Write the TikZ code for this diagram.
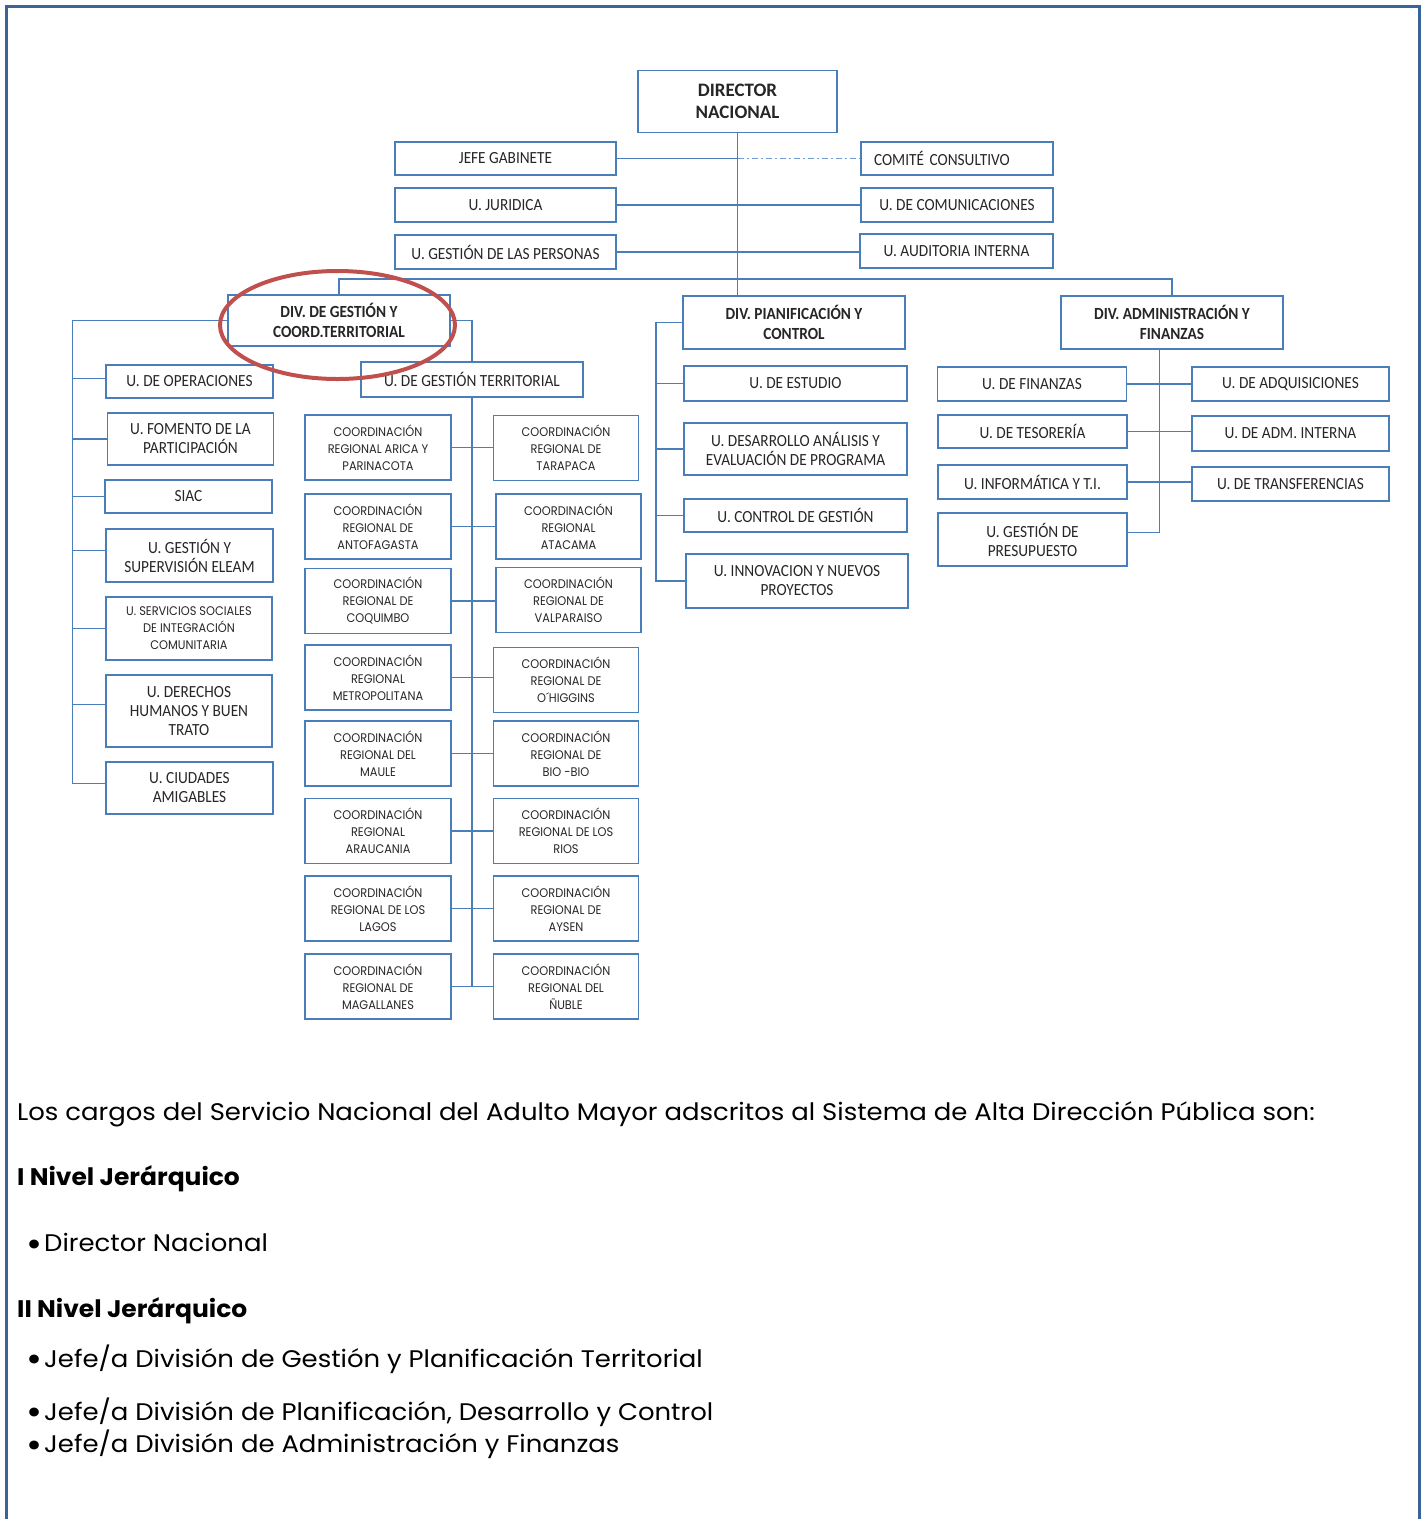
\documentclass[tikz,border=0pt]{standalone}
\usepackage{fontspec}
\newfontfamily\boxfont[FakeStretch=0.9]{Carlito}
\newfontfamily\dirfont{Carlito}
\newfontfamily\regfont[FakeStretch=0.91]{Poppins}
\newfontfamily\bodyfont[FakeStretch=1.08]{Poppins}
\newfontfamily\headfont[FakeStretch=1.04]{Poppins}
\definecolor{orgline}{HTML}{4A7EBB}
\definecolor{framecol}{HTML}{3A6397}
\definecolor{dotline}{HTML}{6F9BD6}
\definecolor{ringred}{HTML}{C0504D}
\newcommand{\bigdot}{\makebox[18pt][l]{\smash{\raisebox{-4.5pt}{\fontsize{36}{24}\selectfont •}}}}
\tikzset{
    box/.style={draw=orgline, line width=1.6pt, rectangle, inner sep=0pt, align=center,
        text=black!85, font=\boxfont\fontsize{17}{19}\selectfont},
    divbox/.style={box, font=\boxfont\bfseries\fontsize{17}{19.5}\selectfont},
    coordbox/.style={box, font=\regfont\fontsize{12.5}{17}\selectfont,
        minimum height=65pt},
    link/.style={draw=orgline, line width=1.4pt},
    bodytext/.style={anchor=base west, inner sep=0pt, font=\bodyfont\fontsize{24}{24}\selectfont},
    headtext/.style={bodytext, font=\headfont\bfseries\fontsize{24}{24}\selectfont},
}

\begin{document}
\begin{tikzpicture}[x=1pt, y=-1pt]
    \useasboundingbox (0,0) rectangle (1421,1519);
    \draw[framecol, line width=3pt] (6.5,1519) -- (6.5,6.5) -- (1419.5,6.5) -- (1419.5,1519);

    % top level
    \node[box, font=\dirfont\bfseries\fontsize{19}{22}\selectfont, minimum width=199pt, minimum height=62pt] (dir) at (737.5,101.3) {DIRECTOR\\NACIONAL};
    \node[box, minimum width=221pt, minimum height=33pt] (jefe) at (505.5,158.5) {JEFE GABINETE};
    \node[box, minimum width=221pt, minimum height=34pt] (jur) at (505.5,205) {U. JURIDICA};
    \node[box, minimum width=221pt, minimum height=34pt] (pers) at (505.5,252) {U. GESTIÓN DE LAS PERSONAS};
    \node[box, minimum width=192pt, minimum height=33pt, text width=166pt, align=left] (comite) at (957,158.5) {COMITÉ CONSULTIVO};
    \node[box, minimum width=192pt, minimum height=34pt] (comu) at (957,205) {U. DE COMUNICACIONES};
    \node[box, minimum width=193pt, minimum height=34pt] (aud) at (956.5,251) {U. AUDITORIA INTERNA};

    % divisions
    \node[divbox, minimum width=222pt, minimum height=51pt] (gest) at (339,320.5) {DIV. DE GESTIÓN Y\\COORD.TERRITORIAL};
    \node[divbox, minimum width=222pt, minimum height=53pt] (plan) at (794,322.5) {DIV. PIANIFICACIÓN Y\\CONTROL};
    \node[divbox, minimum width=222pt, minimum height=53pt] (adm) at (1172,322.5) {DIV. ADMINISTRACIÓN Y\\FINANZAS};

    % div. gestion units
    \node[box, minimum width=167pt, minimum height=33pt] (ope) at (189.5,381.5) {U. DE OPERACIONES};
    \node[box, minimum width=166pt, minimum height=52pt] (fom) at (190.5,439) {U. FOMENTO DE LA\\PARTICIPACIÓN};
    \node[box, minimum width=167pt, minimum height=33pt] (siac) at (188.5,496.5) {SIAC};
    \node[box, minimum width=167pt, minimum height=53pt] (eleam) at (189.5,555.5) {U. GESTIÓN Y\\SUPERVISIÓN ELEAM};
    \node[coordbox, minimum width=166pt, minimum height=63pt] (serv) at (189,628.5) {U. SERVICIOS SOCIALES\\DE INTEGRACIÓN\\COMUNITARIA};
    \node[box, minimum width=166pt, minimum height=72pt] (der) at (189,711) {U. DERECHOS\\HUMANOS Y BUEN\\TRATO};
    \node[box, minimum width=167pt, minimum height=52pt] (ciud) at (189.5,788) {U. CIUDADES\\AMIGABLES};
    \node[box, minimum width=222pt, minimum height=35pt] (terr) at (472,379.5) {U. DE GESTIÓN TERRITORIAL};

    % coordinaciones regionales
    \node[coordbox, minimum width=146pt] (ari) at (378,447.5) {COORDINACIÓN\\REGIONAL ARICA Y\\PARINACOTA};
    \node[coordbox, minimum width=145pt] (tar) at (566,448) {COORDINACIÓN\\REGIONAL DE\\TARAPACA};
    \node[coordbox, minimum width=146pt] (ant) at (378,526.5) {COORDINACIÓN\\REGIONAL DE\\ANTOFAGASTA};
    \node[coordbox, minimum width=145pt] (ata) at (568.5,526.5) {COORDINACIÓN\\REGIONAL\\ATACAMA};
    \node[coordbox, minimum width=146pt] (coq) at (378,601) {COORDINACIÓN\\REGIONAL DE\\COQUIMBO};
    \node[coordbox, minimum width=145pt] (val) at (568.5,600) {COORDINACIÓN\\REGIONAL DE\\VALPARAISO};
    \node[coordbox, minimum width=146pt] (met) at (378,677.5) {COORDINACIÓN\\REGIONAL\\METROPOLITANA};
    \node[coordbox, minimum width=145pt] (ohi) at (566,680) {COORDINACIÓN\\REGIONAL DE\\O´HIGGINS};
    \node[coordbox, minimum width=146pt] (mau) at (378,753.5) {COORDINACIÓN\\REGIONAL DEL\\MAULE};
    \node[coordbox, minimum width=145pt] (bio) at (566,753.5) {COORDINACIÓN\\REGIONAL DE\\BIO -BIO};
    \node[coordbox, minimum width=146pt] (ara) at (378,831) {COORDINACIÓN\\REGIONAL\\ARAUCANIA};
    \node[coordbox, minimum width=145pt] (rio) at (566,831) {COORDINACIÓN\\REGIONAL DE LOS\\RIOS};
    \node[coordbox, minimum width=146pt] (lag) at (378,908.5) {COORDINACIÓN\\REGIONAL DE LOS\\LAGOS};
    \node[coordbox, minimum width=145pt] (ays) at (566,908.5) {COORDINACIÓN\\REGIONAL DE\\AYSEN};
    \node[coordbox, minimum width=146pt] (mag) at (378,986.5) {COORDINACIÓN\\REGIONAL DE\\MAGALLANES};
    \node[coordbox, minimum width=145pt] (nub) at (566,986.5) {COORDINACIÓN\\REGIONAL DEL\\ÑUBLE};

    % div. planificacion units
    \node[box, minimum width=223pt, minimum height=35pt] (est) at (795.5,383.5) {U. DE ESTUDIO};
    \node[box, minimum width=223pt, minimum height=52pt] (desa) at (795.5,449) {U. DESARROLLO ANÁLISIS Y\\EVALUACIÓN DE PROGRAMA};
    \node[box, minimum width=223pt, minimum height=33pt] (ctrl) at (795.5,515.5) {U. CONTROL DE GESTIÓN};
    \node[box, minimum width=222pt, minimum height=54pt] (inno) at (797,581) {U. INNOVACION Y NUEVOS\\PROYECTOS};

    % div. administracion units
    \node[box, minimum width=189pt, minimum height=34pt] (fin) at (1032,384) {U. DE FINANZAS};
    \node[box, minimum width=189pt, minimum height=33pt] (tes) at (1032.5,431.5) {U. DE TESORERÍA};
    \node[box, minimum width=189pt, minimum height=34pt] (inf) at (1032.5,482) {U. INFORMÁTICA Y T.I.};
    \node[box, minimum width=189pt, minimum height=53pt] (pres) at (1032.5,539.5) {U. GESTIÓN DE\\PRESUPUESTO};
    \node[box, minimum width=197pt, minimum height=34pt] (adq) at (1290.5,384) {U. DE ADQUISICIONES};
    \node[box, minimum width=197pt, minimum height=35pt] (admi) at (1290.5,433.5) {U. DE ADM. INTERNA};
    \node[box, minimum width=197pt, minimum height=34pt] (tran) at (1290.5,484) {U. DE TRANSFERENCIAS};

    % connectors, top
    \draw[link] (dir.south) -- (dir.south |- plan.north);
    \draw[link] (jefe.east) -- (jefe.east -| dir.south);
    \draw[dotline, line width=1.6pt, dash pattern=on 6pt off 3pt on 2pt off 3pt] (jefe.east -| dir.south) -- (comite.west);
    \draw[link] (jur.east) -- (comu.west);
    \draw[link] (pers.east) -- (pers.east -| aud.west);
    \coordinate (bus) at (339,279);
    \draw[link] (gest.north) -- (gest.north |- bus) -- (adm.north |- bus) -- (adm.north);

    % connectors, div. gestion
    \coordinate (tl) at (72.6,323);
    \draw[link] (gest.west) -- (gest.west -| tl) |- ([yshift=4.7pt]ciud.west);
    \draw[link] (tl |- ope.west) ++(0,-2.8) -- ([yshift=2.8pt]ope.west);
    \draw[link] (tl |- fom.west) -- (fom.west);
    \draw[link] (tl |- siac.west) -- (siac.west);
    \draw[link] (tl |- eleam.west) ++(0,-4.8) -- ([yshift=4.8pt]eleam.west);
    \draw[link] (tl |- serv.west) -- (serv.west);
    \draw[link] (tl |- der.west) ++(0,-6.7) -- ([yshift=6.7pt]der.west);
    \draw[link] (gest.east) -| (terr.north);
    \draw[link] (terr.south) -- (terr.south |- mag.east);
    \draw[link] (ari.east) -- (ari.east -| tar.west);
    \draw[link] (ant.east) -- (ata.west);
    \draw[link] (coq.east) -- (coq.east -| val.west);
    \draw[link] (met.east) -- (met.east -| ohi.west);
    \draw[link] (mau.east) -- (bio.west);
    \draw[link] (ara.east) -- (rio.west);
    \draw[link] (lag.east) -- (ays.west);
    \draw[link] (mag.east) -- (nub.west);

    % connectors, div. planificacion
    \coordinate (tp) at (656,322.5);
    \draw[link] (plan.west) -- (tp) |- (inno.west);
    \draw[link] (tp |- est.west) -- (est.west);
    \draw[link] (tp |- desa.west) -- (desa.west);
    \draw[link] (tp |- ctrl.west) -- (ctrl.west);

    % connectors, div. administracion
    \coordinate (ta) at (1159.6,349);
    \draw[link] (ta) |- ([yshift=6.8pt]pres.east);
    \draw[link] (fin.east) -- (fin.east -| adq.west);
    \draw[link] (tes.east) -- (tes.east -| admi.west);
    \draw[link] (inf.east) -- (inf.east -| tran.west);

    % red ring
    \draw[ringred, line width=4pt] (337.5,325) ellipse [x radius=117.5pt, y radius=54pt];

    % text below
    \node[bodytext] (intro) at (17,1120.7) {Los cargos del Servicio Nacional del Adulto Mayor adscritos al Sistema de Alta Dirección Pública son:};
    \node[headtext] (niv1) at (17,1185) {I Nivel Jerárquico};
    \node[bodytext] (b1) at (26,1251.7) {\bigdot Director Nacional};
    \node[headtext] (niv2) at (17,1317) {II Nivel Jerárquico};
    \node[bodytext] (b2) at (26,1367) {\bigdot Jefe/a División de Gestión y Planificación Territorial};
    \node[bodytext] (b3) at (26,1420) {\bigdot Jefe/a División de Planificación, Desarrollo y Control};
    \node[bodytext] (b4) at (26,1452.7) {\bigdot Jefe/a División de Administración y Finanzas};
\end{tikzpicture}
\end{document}
